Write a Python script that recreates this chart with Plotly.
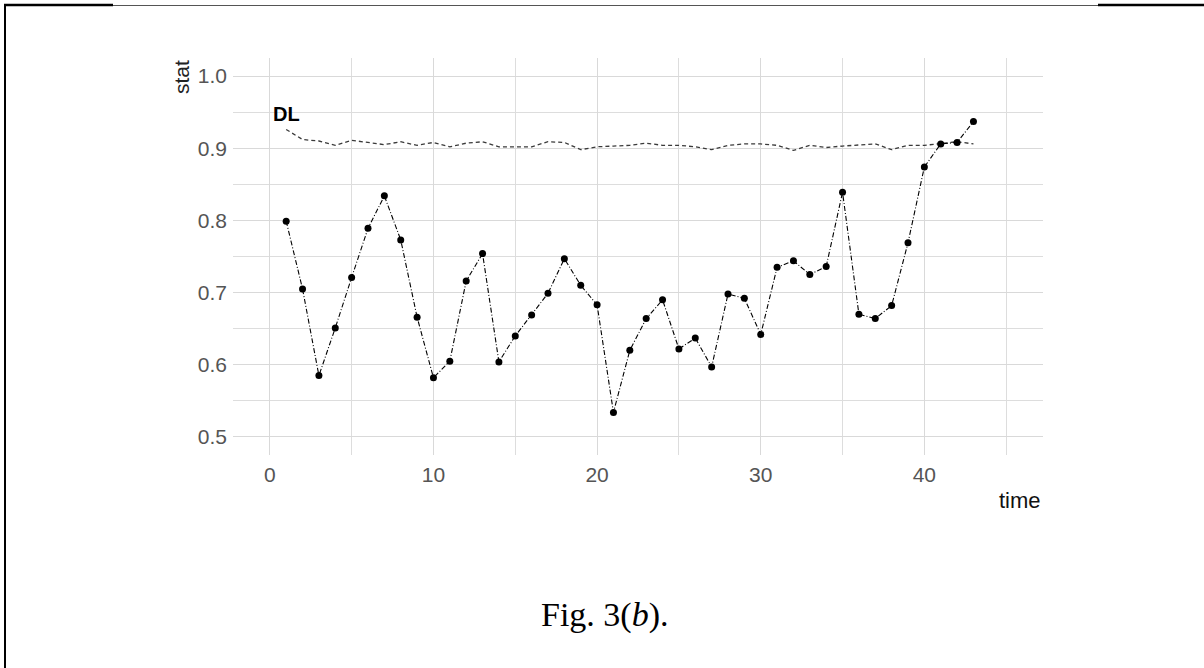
import plotly.graph_objects as go

time = list(range(1, 44))
stat = [0.799, 0.705, 0.585, 0.651, 0.721, 0.789, 0.834, 0.773, 0.666, 0.582,
        0.605, 0.716, 0.754, 0.604, 0.640, 0.669, 0.699, 0.747, 0.710, 0.683,
        0.534, 0.620, 0.664, 0.690, 0.622, 0.637, 0.597, 0.698, 0.692, 0.642,
        0.735, 0.744, 0.725, 0.736, 0.839, 0.670, 0.664, 0.682, 0.769, 0.874,
        0.906, 0.908, 0.937]
dl = [0.926, 0.912, 0.910, 0.904, 0.911, 0.908, 0.905, 0.909, 0.904, 0.908,
      0.902, 0.907, 0.909, 0.902, 0.902, 0.902, 0.909, 0.908, 0.898, 0.902,
      0.903, 0.904, 0.907, 0.904, 0.904, 0.902, 0.898, 0.904, 0.906, 0.906,
      0.904, 0.897, 0.904, 0.901, 0.903, 0.904, 0.906, 0.898, 0.904, 0.904,
      0.907, 0.909, 0.906]
x_ticks = [0, 10, 20, 30, 40]
y_ticks = [0.5, 0.6, 0.7, 0.8, 0.9, 1.0]
y_tick_labels = ["0.5", "0.6", "0.7", "0.8", "0.9", "1.0"]

FONT = "Liberation Sans, Arial, sans-serif"

fig = go.Figure()
fig.add_trace(go.Scatter(
    x=time, y=dl, mode="lines",
    line=dict(color="#3a3a3a", width=1.3, dash="4px,3px"),
    hoverinfo="skip", showlegend=False))
fig.add_trace(go.Scatter(
    x=time, y=stat, mode="lines+markers",
    line=dict(color="black", width=1.1, dash="5px,2px,1px,2px"),
    marker=dict(color="black", size=7),
    showlegend=False))

# plot area pixels: x 233..1043, y 58..455
W, H = 1204, 668
L, R, T, B = 233, 1043, 58, 455
def px(x):
    return (x - L) / (R - L)
def py(y):
    return (B - y) / (B - T)

shapes = [
    dict(type="line", xref="paper", yref="paper", x0=px(5), x1=px(5), y0=py(4), y1=py(668),
         line=dict(color="black", width=2)),
    dict(type="line", xref="paper", yref="paper", x0=px(4), x1=px(113), y0=py(5), y1=py(5),
         line=dict(color="black", width=2.5)),
    dict(type="line", xref="paper", yref="paper", x0=px(113), x1=px(1098), y0=py(5.5), y1=py(5.5),
         line=dict(color="#555555", width=1)),
    dict(type="line", xref="paper", yref="paper", x0=px(1098), x1=px(1204), y0=py(5), y1=py(5),
         line=dict(color="black", width=2.5)),
]

annotations = [
    dict(x=1, y=0.948, xref="x", yref="y", text="<b>DL</b>", showarrow=False,
         font=dict(family=FONT, size=20, color="black"), xanchor="center", yanchor="middle"),
    dict(x=px(181), y=1.0, xref="paper", yref="paper", text="stat", textangle=-90,
         showarrow=False, font=dict(family=FONT, size=21, color="#222222"),
         xanchor="center", yanchor="top"),
    dict(x=1.0, y=py(500), xref="paper", yref="paper", text="time", showarrow=False,
         font=dict(family=FONT, size=22, color="#111111"), xanchor="right", yanchor="middle"),
    dict(x=px(605), y=py(615), xref="paper", yref="paper", text="Fig. 3(<i>b</i>).",
         showarrow=False, font=dict(family="Liberation Serif, Times New Roman, serif", size=34,
                                    color="black"),
         xanchor="center", yanchor="middle"),
]

fig.update_layout(
    width=W, height=H,
    margin=dict(l=L, r=W - R, t=T, b=H - B, pad=0),
    paper_bgcolor="white", plot_bgcolor="white",
    shapes=shapes, annotations=annotations,
    xaxis=dict(range=[-2.25, 47.25], tickmode="array", tickvals=x_ticks,
               showgrid=True, gridcolor="#D9D9D9", gridwidth=1.4,
               minor=dict(dtick=5, tick0=0, showgrid=True, gridcolor="#DDDDDD", gridwidth=1.3),
               zeroline=False, showline=False, ticks="",
               tickfont=dict(family=FONT, size=21, color="#555555"),
               ticklabelstandoff=5),
    yaxis=dict(range=[0.475, 1.025], tickmode="array", tickvals=y_ticks, ticktext=y_tick_labels,
               showgrid=True, gridcolor="#D9D9D9", gridwidth=1.4,
               minor=dict(dtick=0.05, tick0=0, showgrid=True, gridcolor="#DDDDDD", gridwidth=1.3),
               zeroline=False, showline=False, ticks="",
               tickfont=dict(family=FONT, size=21, color="#555555"),
               ticklabelstandoff=5),
)

fig.write_html("out.html", config={"displayModeBar": False},
               post_script="document.body.style.margin='0';")
